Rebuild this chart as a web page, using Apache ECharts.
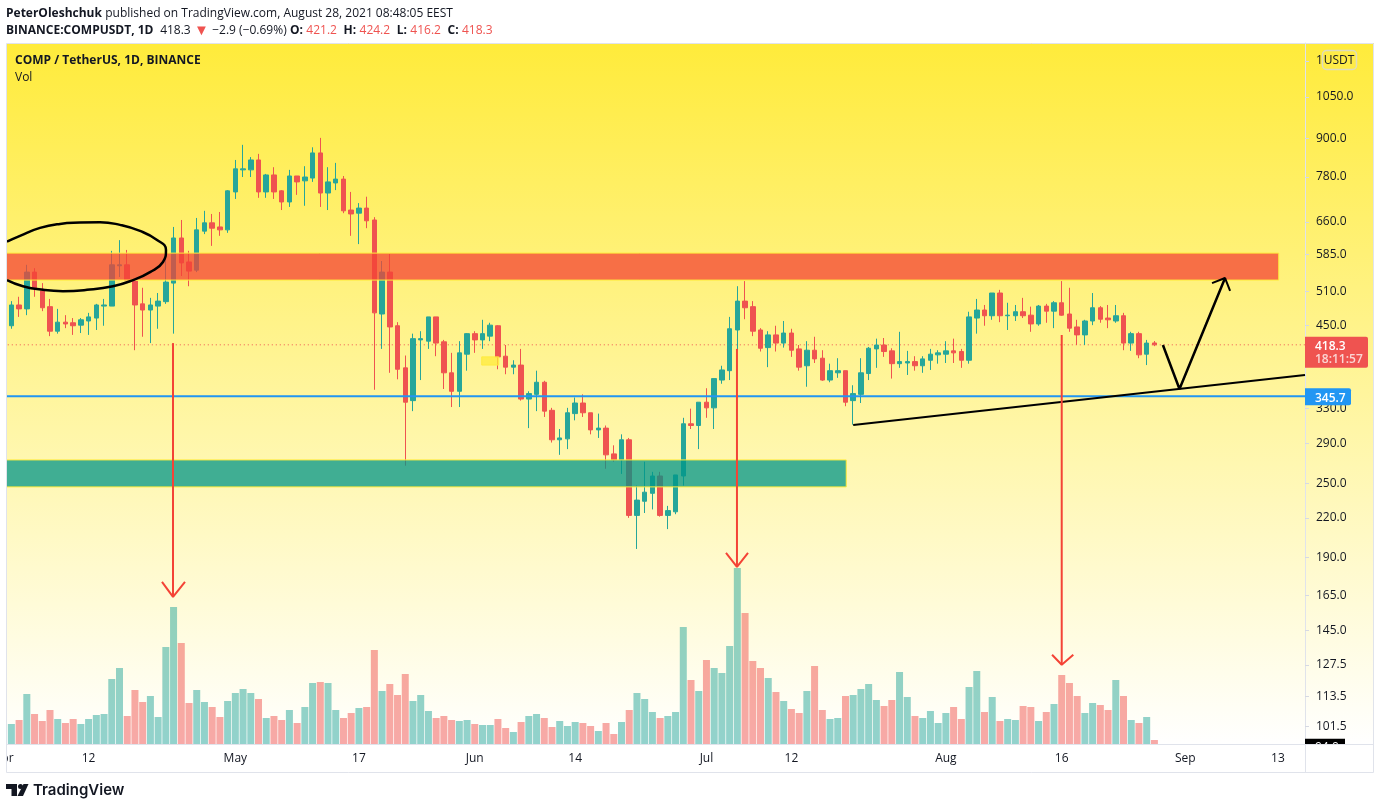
<!DOCTYPE html>
<html><head><meta charset="utf-8">
<style>html,body{margin:0;padding:0;background:#fff}#c{width:1380px;height:809px}</style>
<script src="https://cdn.jsdelivr.net/npm/echarts@6/dist/echarts.min.js"></script>
</head><body><div id="c"></div>
<script>
// Daily candles from 2021-04-01: [open, close, low, high]
const ohlc = [
['-','-','-','-'],
[449,485,444,492],[485,478,464,500],[478,548,467,563],[548,517,500,556],[511,480,474,526],[482,440,432,496],[440,455,436,478],[455,452,445,467],[454,449,434,462],[450,459,437,462],
[457,464,434,471],[462,485,442,487],[483,485,449,496],[483,563,483,593],[561,563,538,617],[563,532,532,595],[530,485,410,532],[487,476,431,517],[476,485,421,498],[483,492,444,507],
[491,528,487,588],[526,622,436,648],[622,567,540,665],[569,550,520,593],[552,641,548,670],[638,658,631,688],[658,645,604,680],[648,641,627,685],[641,741,634,743],[738,804,719,831],
[801,804,780,879],[801,831,780,840],[831,738,722,850],[738,786,722,789],[786,738,719,809],[741,711,690,743],[711,783,698,801],[783,766,730,783],[769,780,701,812],[777,853,766,871],
[853,735,698,902],[735,766,690,809],[763,774,743,822],[774,688,682,783],[690,680,627,738],[682,695,608,708],[695,663,645,725],[665,471,354,672],[469,548,412,571],[548,447,377,586],
[449,382,368,455],[384,338,267,402],[340,428,327,436],[426,428,367,440],[424,464,412,464],[464,421,401,464],[423,377,355,426],[377,352,332,406],[352,406,332,424],[404,436,380,437],
[436,426,406,440],[426,436,412,459],[432,450,424,454],[449,400,382,450],[401,385,375,418],[385,388,375,395],[388,342,340,412],[342,349,307,352],[348,364,327,380],[364,327,320,366],
[328,294,291,331],[294,296,278,306],[295,325,284,331],[324,337,316,344],[337,325,320,348],[325,305,300,325],[305,307,296,324],[307,278,264,310],[279,273,271,288],[273,294,259,300],
[294,222,220,296],[222,235,196,248],[234,242,224,271],[241,257,227,261],[257,222,221,261],[222,226,211,230],[225,258,223,258],[257,312,248,319],[312,310,306,330],[310,338,284,338],
[338,331,319,356],[331,369,306,369],[367,381,362,387],[380,444,367,464],[442,492,410,520],[492,480,460,530],[482,440,432,492],[442,413,408,445],[414,434,385,440],[434,421,408,449],
[421,437,414,457],[437,410,400,444],[412,385,380,418],[387,410,358,424],[410,397,391,431],[398,367,366,410],[367,380,364,390],[377,380,370,398],[380,338,333,380],[340,349,311,360],
[348,377,337,398],[376,413,367,415],[412,418,384,428],[418,408,400,429],[409,390,369,413],[390,393,384,439],[391,393,374,409],[393,387,380,401],[387,397,377,401],[395,404,381,412],
[403,406,390,410],[404,409,391,424],[409,406,391,428],[408,395,384,412],[395,464,390,473],[462,476,436,496],[476,466,449,485],[466,507,459,507],[507,466,455,513],[466,467,442,489],
[466,473,457,485],[473,466,462,498],[467,452,439,482],[452,483,449,485],[483,474,454,487],[474,489,445,492],[489,467,466,530],[469,445,439,517],[447,434,418,459],[434,457,418,459],
[457,480,450,507],[480,460,454,483],[462,459,445,485],[457,466,454,485],[466,421,410,471],[421,436,409,439],[436,403,398,439],[404,421,388,426],[421.2,418.3,416.2,424.2]
];
// Daily volume, thousands of COMP
const volumes = [null,
20,24,50,30,23,34,25,21,25,20,25,29,30,65,76,28,54,42,48,27,97,137,101,41,54,42,37,27,43,51,
55,51,45,26,28,24,34,21,37,61,62,61,34,26,31,36,37,94,53,60,49,70,43,49,33,26,28,24,23,24,
20,19,19,25,16,12,22,28,30,26,17,23,18,22,21,18,13,21,10,22,34,51,45,32,26,28,32,117,64,53,
84,76,71,98,176,131,83,76,66,52,43,35,31,53,78,34,25,26,48,49,55,60,44,38,44,72,47,28,26,33,
21,31,37,25,57,73,32,47,23,25,24,38,37,23,32,40,69,61,48,31,41,39,34,64,48,24,21,27,4
];
const dayCount = 169;
const tickDates = ['2021-04-01','2021-04-12','2021-05-01','2021-05-17','2021-06-01','2021-06-14','2021-07-01','2021-07-12','2021-08-01','2021-08-16','2021-09-01','2021-09-13'];
const tickNames = ['Apr','12','May','17','Jun','14','Jul','12','Aug','16','Sep','13'];
const priceTicks = [1200,1050,900,780,660,585,510,450,330,290,250,220,190,165,145,127.5,113.5,101.5];
const lastPrice = 418.3, lastTimer = '18:11:57', levelPrice = 345.7, volumeTag = 94.0;
// Drawings: [day number since Apr 1, price]
const resistanceZone = [-0.5,165.1,532,588];
const supportZone = [-0.5,109.1,246.8,272.8];
const smallZone = [61.9,64.1,388,400];
const trendLine = [[110,310.7],[168.5,374]];
const forecastPath = [[150.1,418],[152.25,355],[158.15,536]];
const forecastHead = [[156.46,526],[158.15,536],[158.8,511]];
const ringPath = [[0.43,613.7],[2.12,627],[4.71,645.7],[7.3,655.4],[9.88,658.5],[12.48,659.5],[15.06,653],[17.65,638.5],[19.86,617.5],[21.02,595],[20.63,569],[18.95,548],[16.75,532],[14.16,520],[10.79,513],[7.68,510.5],[5.1,513],[2.5,520],[0.43,532]];
const arrowShafts = [[[21.93,421],[21.93,164.1]],[[94.95,412],[94.95,183.4]],[[137,434],[137,127.5]]];
const arrowHeads = [[[20.5,173.5],[21.93,164.1],[23.48,173.5]],[[93.53,193.2],[94.95,183.4],[96.38,193.2]],[[135.75,132.3],[137,127.5],[138.5,132.3]]];

const UP='#26A69A', DOWN='#EF5350', FONT='"Open Sans", sans-serif';
const categories=[];
for(let i=0;i<dayCount;i++){categories.push(new Date(Date.UTC(2021,3,1+i)).toISOString().slice(0,10));}
const hiddenX=1;
function lineS(data,color,width,extra){
  return Object.assign({type:'line',xAxisIndex:hiddenX,yAxisIndex:0,data:data,showSymbol:false,symbol:'none',silent:true,z:5,
    lineStyle:{color:color,width:width},animation:false},extra||{});
}
function zoneS(zone,fill,stroke,z){
  return {type:'custom',xAxisIndex:hiddenX,yAxisIndex:0,z:z,silent:true,data:[zone],encode:{x:[0,1],y:[2,3]},
    renderItem:function(p,api){
      const a=api.coord([api.value(0),api.value(3)]), b=api.coord([api.value(1),api.value(2)]);
      return {type:'rect',shape:{x:a[0],y:a[1],width:b[0]-a[0],height:b[1]-a[1]},style:{fill:fill,stroke:stroke,lineWidth:1}};
    }};
}
function tagS(price,renderer){
  return {type:'custom',xAxisIndex:hiddenX,yAxisIndex:0,z:20,silent:true,clip:false,data:[[168.5,price]],encode:{x:0,y:1},
    renderItem:function(p,api){return renderer(api.coord([api.value(0),api.value(1)])[1]);}};
}
const series=[
 {type:'candlestick',xAxisIndex:0,yAxisIndex:0,data:ohlc,barWidth:5,z:2,silent:true,
  itemStyle:{color:UP,color0:DOWN,borderColor:UP,borderColor0:DOWN,borderWidth:1}},
 {type:'bar',xAxisIndex:0,yAxisIndex:1,barWidth:7,z:1,silent:true,
  data:volumes.map((v,i)=>v==null?null:{value:v,itemStyle:{color:(ohlc[i][1]>=ohlc[i][0])?'rgba(38,166,154,0.5)':'rgba(239,83,80,0.5)'}})},
 zoneS(resistanceZone,'rgba(244,67,54,0.75)','#FFEB3B',3),
 zoneS(supportZone,'rgba(0,150,136,0.75)','#FFEB3B',3),
 zoneS(smallZone,'rgba(255,235,59,0.75)','rgba(255,235,59,0.9)',3),
 lineS([[-0.5,lastPrice],[168.5,lastPrice]],DOWN,1,{z:1,lineStyle:{color:DOWN,width:1,type:[1,3]}}),
 lineS([[-0.5,levelPrice],[168.5,levelPrice]],'#2196F3',2,{z:4}),
 lineS(ringPath,'#000',2.5,{smooth:0.5}),
 lineS(trendLine,'#000',2),
 lineS(forecastPath,'#000',2.5),
 lineS(forecastHead,'#000',2)
];
arrowShafts.forEach(s=>series.push(lineS(s,'#F44336',2,{z:6})));
arrowHeads.forEach(s=>series.push(lineS(s,'#F44336',2,{z:6})));
series.push(tagS(lastPrice,function(y){return {type:'group',children:[
  {type:'rect',shape:{x:1305,y:y-8,width:63,height:31,r:[0,2,2,0]},style:{fill:DOWN}},
  {type:'text',style:{x:1315,y:y+2,text:lastPrice.toFixed(1),fill:'#fff',font:'600 12px '+FONT,textVerticalAlign:'middle'}},
  {type:'text',style:{x:1315,y:y+15,text:lastTimer,fill:'#FBD5D3',font:'600 12px '+FONT,textVerticalAlign:'middle'}}
]};}));
series.push(tagS(levelPrice,function(y){return {type:'group',children:[
  {type:'rect',shape:{x:1305,y:y-8,width:46,height:17,r:[0,2,2,0]},style:{fill:'#2196F3'}},
  {type:'text',style:{x:1315,y:y+2,text:levelPrice.toFixed(1),fill:'#fff',font:'600 12px '+FONT,textVerticalAlign:'middle'}}
]};}));
series.push(tagS(volumeTag,function(y){return {type:'group',children:[
  {type:'rect',shape:{x:1305,y:y-8,width:40,height:17},style:{fill:'#000'}},
  {type:'text',style:{x:1315,y:y+1,text:volumeTag.toFixed(1),fill:'#fff',font:'12px '+FONT,textVerticalAlign:'middle'}}
]};}));

const headerRich={b:{font:'700 12px '+FONT,fill:'#131722'},n:{font:'12px '+FONT,fill:'#131722'},r:{font:'12px '+FONT,fill:DOWN},t:{font:'15px '+FONT,fill:DOWN}};
const option={
 animation:false,
 backgroundColor:'#fff',
 textStyle:{fontFamily:FONT},
 grid:{left:-0.21,top:43,width:1305.21,height:701,containLabel:false,outerBoundsMode:'none'},
 xAxis:[
  {type:'category',data:categories,boundaryGap:true,position:'bottom',
   axisLine:{lineStyle:{color:'#E0E3EB',width:1}},
   axisTick:{alignWithLabel:true,length:4,lineStyle:{color:'#D6D9E2'},interval:(i,v)=>tickDates.includes(v)},
   axisLabel:{interval:(i,v)=>tickDates.includes(v),formatter:v=>tickNames[tickDates.indexOf(v)],color:'#131722',fontSize:12,fontFamily:FONT,margin:9,hideOverlap:false},
   splitLine:{show:false}},
  {type:'value',min:-0.5,max:168.5,show:false,splitLine:{show:false}}
 ],
 yAxis:[
  {type:'log',logBase:10,min:95,max:1283,position:'right',scale:true,
   axisLine:{show:true,onZero:false,lineStyle:{color:'#E0E3EB'}},
   axisTick:{show:true,length:4,lineStyle:{color:'#D6D9E2'},customValues:priceTicks},
   axisLabel:{color:'#131722',fontSize:12,fontFamily:FONT,margin:11,padding:[5,0,0,0],customValues:priceTicks,formatter:v=>Number(v).toFixed(1)},
   splitLine:{show:false},minorTick:{show:false}},
  {type:'value',min:0,max:701,show:false,splitLine:{show:false}}
 ],
 series:series,
 graphic:{elements:[
  {type:'rect',z:-5,silent:true,shape:{x:7,y:43,width:1367,height:701},
   style:{fill:{type:'linear',x:0,y:0,x2:0,y2:1,colorStops:[{offset:0,color:'#FFEB3B'},{offset:1,color:'#FFFFFF'}]}}},
  {type:'rect',z:100,silent:true,shape:{x:0,y:40,width:6,height:735},style:{fill:'#fff'}},
  {type:'rect',z:100,silent:true,shape:{x:1306,y:744.5,width:67.5,height:27},style:{fill:'#fff'}},
  {type:'rect',z:101,silent:true,shape:{x:6.5,y:43.5,width:1367,height:729},style:{fill:'none',stroke:'#E0E3EB',lineWidth:1}},
  {type:'line',z:101,silent:true,shape:{x1:1305.5,y1:744,x2:1305.5,y2:772},style:{stroke:'#E0E3EB',lineWidth:1}},
  {type:'line',z:101,silent:true,shape:{x1:1305.5,y1:744.5,x2:1373,y2:744.5},style:{stroke:'#E0E3EB',lineWidth:1}},
  {type:'rect',z:101,silent:true,shape:{x:1322.5,y:50.5,width:34,height:19,r:4},style:{fill:'#FFEC47',stroke:'#DDDCC0',lineWidth:1.5}},
  {type:'text',z:102,silent:true,style:{x:1339,y:60.5,text:'USDT',fill:'#131722',font:'12px '+FONT,textAlign:'center',textVerticalAlign:'middle'}},
  {type:'text',z:102,silent:true,style:{x:6,y:13.5,textVerticalAlign:'middle',rich:headerRich,
    text:'{b|PeterOleshchuk} {n|published on TradingView.com, August 28, 2021 08:48:05 EEST}'}},
  {type:'text',z:102,silent:true,style:{x:6,y:30.5,textVerticalAlign:'middle',rich:headerRich,
    text:'{b|BINANCE:COMPUSDT, 1D}  {n|418.3} {t|▼} {n|−2.9 (−0.69%)} {b|O:} {r|421.2}  {b|H:} {r|424.2}  {b|L:} {r|416.2}  {b|C:} {r|418.3}'}},
  {type:'text',z:102,silent:true,style:{x:15,y:61,text:'COMP / TetherUS, 1D, BINANCE',fill:'#131722',font:'700 12px '+FONT,textVerticalAlign:'middle'}},
  {type:'text',z:102,silent:true,style:{x:15,y:78,text:'Vol',fill:'#131722',font:'12px '+FONT,textVerticalAlign:'middle'}},
  {type:'polygon',z:102,silent:true,shape:{points:[[6,784],[17,784],[17,796],[11.5,796],[11.5,789],[6,789]]},style:{fill:'#131722'}},
  {type:'circle',z:102,silent:true,shape:{cx:20.5,cy:786.5,r:2.5},style:{fill:'#131722'}},
  {type:'polygon',z:102,silent:true,shape:{points:[[23.5,784],[28.5,784],[23,796],[17.5,796]]},style:{fill:'#131722'}},
  {type:'text',z:102,silent:true,style:{x:33,y:790.5,text:'TradingView',fill:'#131722',font:'600 15px Inter, sans-serif',textVerticalAlign:'middle'}}
 ]}
};
echarts.init(document.getElementById('c')).setOption(option);
</script></body></html>
